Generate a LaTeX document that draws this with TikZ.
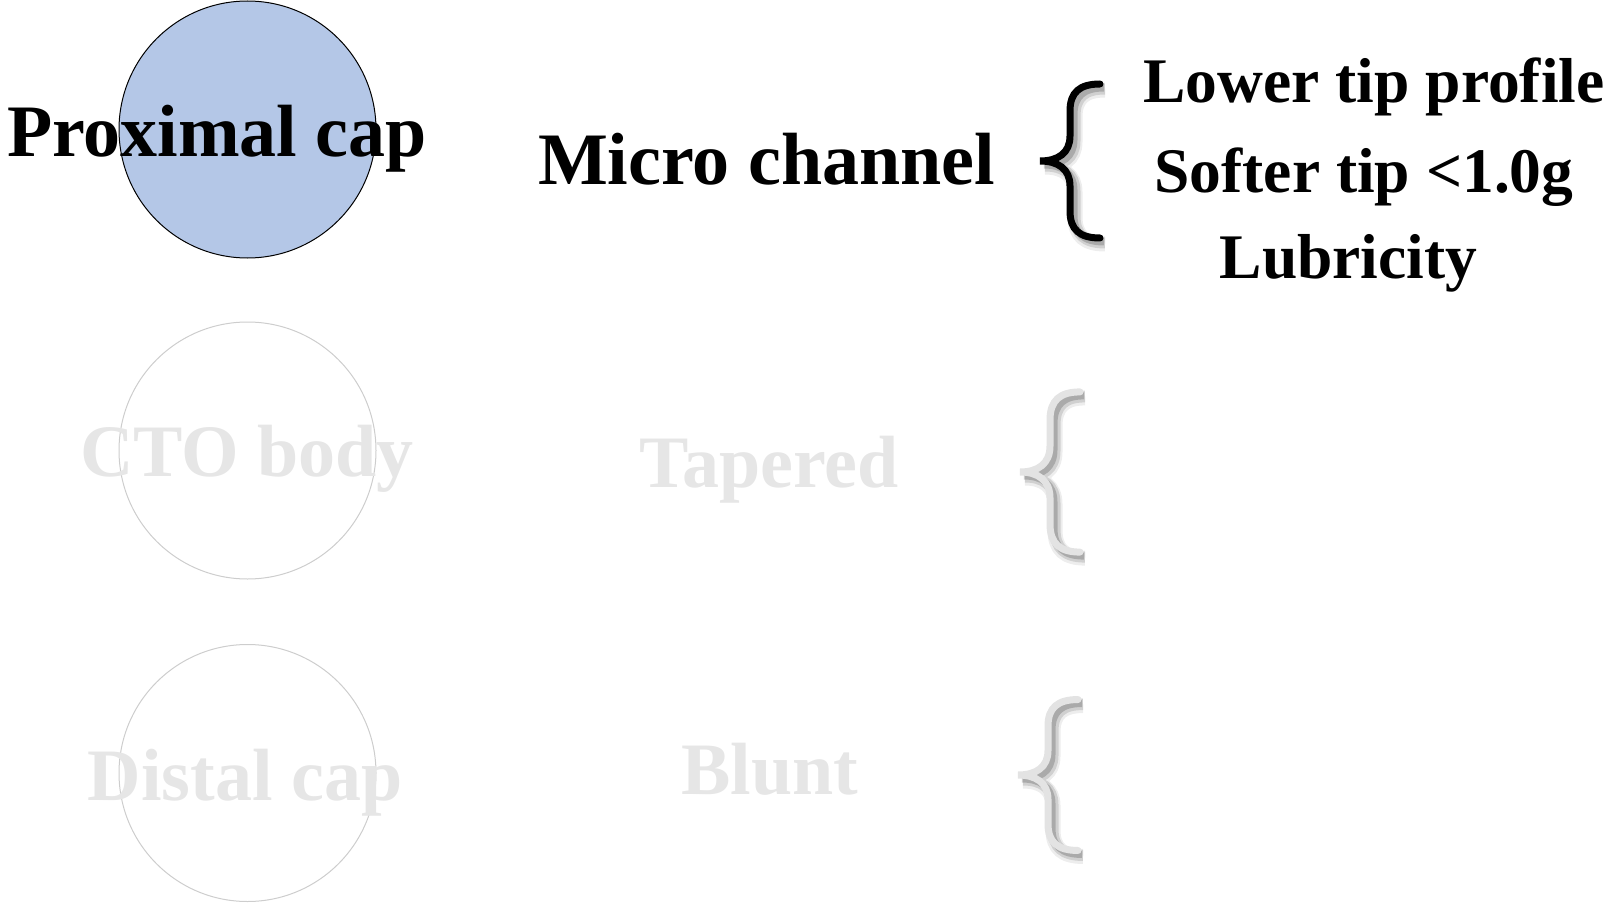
\documentclass[tikz,border=0pt]{standalone}
\usepackage{fontspec}
\setmainfont{Liberation Serif}
\definecolor{capblue}{HTML}{B4C7E7}
\definecolor{fadetext}{HTML}{E6E6E6}
\definecolor{fadeline}{HTML}{CDCDCD}
\definecolor{fadebrace}{HTML}{E3E3E3}
\tikzset{
  x=1pt, y=-1pt,
  capcircle/.style={circle, inner sep=0pt, minimum size=257pt, line width=1pt},
  bigtext/.style={anchor=base, inner sep=0pt, font=\fontsize{74}{88}\selectfont\bfseries},
  smalltext/.style={anchor=base, inner sep=0pt, font=\fontsize{63.5}{80}\selectfont\bfseries},
  pics/cbrace/.style={code={
    \draw[draw=#1, line width=7pt, line cap=round,
      preaction={draw=black, opacity=0.07, line width=15pt, transform canvas={shift={(5pt,-6pt)}}},
      preaction={draw=black, opacity=0.12, line width=11pt, transform canvas={shift={(5pt,-5pt)}}},
      preaction={draw=black, opacity=0.18, line width=7pt, transform canvas={shift={(4pt,-4pt)}}}]
      (60,-77) .. controls (40,-77) and (30,-69) .. (30,-50) -- (30,-25)
      .. controls (30,-8) and (18,0) .. (0,0)
      .. controls (18,0) and (30,8) .. (30,25) -- (30,50)
      .. controls (30,69) and (40,77) .. (60,77);
  }}
}
\begin{document}
\begin{tikzpicture}
\useasboundingbox (0,0) rectangle (1606,904);

% circles
\node[capcircle, draw=black, fill=capblue] (prox) at (247.5,129.5) {};
\node[capcircle, draw=fadeline] (body) at (247.5,450.5) {};
\node[capcircle, draw=fadeline] (dist) at (247.5,773) {};

% left labels
\node[bigtext] (proxlabel) at (217,157) {Proximal cap};
\node[bigtext, text=fadetext] (bodylabel) at (247,476) {CTO body};
\node[bigtext, text=fadetext] (distlabel) at (245,800) {Distal cap};

% middle labels
\node[bigtext] (micro) at (766.5,185) {Micro channel};
\node[bigtext, text=fadetext] (taper) at (769,487) {Tapered};
\node[bigtext, text=fadetext] (blunt) at (770,794) {Blunt};

% braces
\pic[yscale=1.0] at (1040,161) {cbrace=black};
\pic[yscale=1.04] at (1020,472) {cbrace=fadebrace};
\pic[yscale=0.98] at (1018,775) {cbrace=fadebrace};

% right labels
\node[smalltext] (lower) at (1374,103) {Lower tip profile};
\node[smalltext] (softer) at (1364,193) {Softer tip <1.0g};
\node[smalltext] (lubric) at (1348.5,278) {Lubricity};
\end{tikzpicture}
\end{document}
